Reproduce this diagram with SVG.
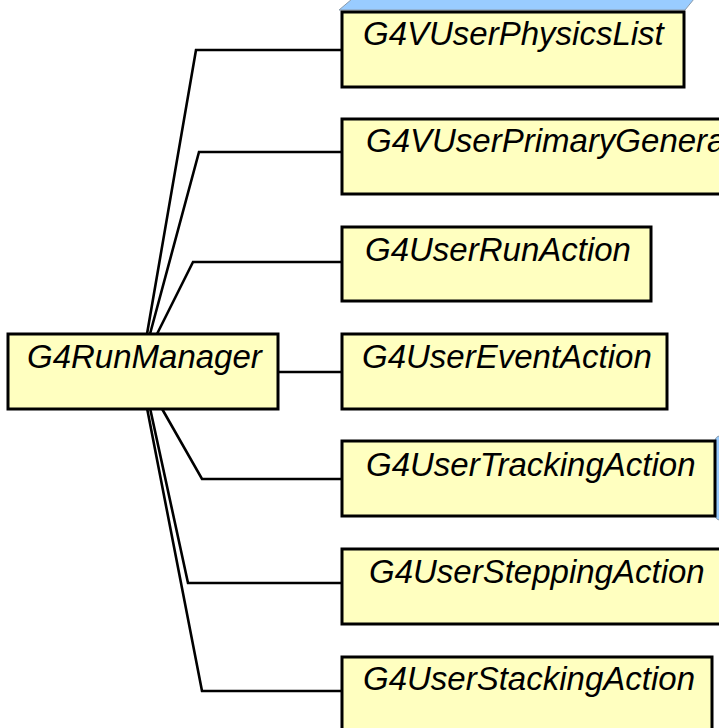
<svg xmlns="http://www.w3.org/2000/svg" width="719" height="728" viewBox="0 0 719 728">
  <style>
    .box { fill: #FFFFC0; stroke: #000; stroke-width: 3; }
    .lbl { font-family: "Liberation Sans", Arial, sans-serif; font-style: italic; font-size: 33px; fill: #000; }
    .wire { fill: none; stroke: #000; stroke-width: 2.6; stroke-linejoin: miter; }
    .face { fill: #99CCFF; stroke: #8A9AAA; stroke-width: 1; }
  </style>
  <rect width="719" height="728" fill="#fff"/>

  <!-- background shapes peeking out behind the class boxes -->
  <polygon class="face" points="339,10 352,-1 694,-1 685,10"/>
  <rect class="face" x="715" y="436" width="24" height="84" rx="5"/>

  <!-- connectors from the run manager to the user classes -->
  <g id="connectors">
    <polyline class="wire" points="147,334 196,50 342,50"/>
    <polyline class="wire" points="150,334 199,152 342,152"/>
    <polyline class="wire" points="157,334 193,262 342,262"/>
    <polyline class="wire" points="275,372 342,372"/>
    <polyline class="wire" points="161,407 202,479 342,479"/>
    <polyline class="wire" points="150,408 188,583 342,583"/>
    <polyline class="wire" points="147,408 202,691 342,691"/>
  </g>

  <g id="runManager">
    <rect class="box" x="8" y="334" width="270" height="75"/>
    <text class="lbl" x="27" y="368">G4RunManager</text>
  </g>

  <g id="physicsList">
    <rect class="box" x="342" y="12" width="342" height="75"/>
    <text class="lbl" x="363" y="45">G4VUserPhysicsList</text>
  </g>

  <g id="primaryGenerator">
    <rect class="box" x="342" y="119" width="420" height="75"/>
    <text class="lbl" x="366" y="152">G4VUserPrimaryGenera</text>
  </g>

  <g id="runAction">
    <rect class="box" x="342" y="227" width="309" height="74"/>
    <text class="lbl" x="365" y="261">G4UserRunAction</text>
  </g>

  <g id="eventAction">
    <rect class="box" x="342" y="334" width="325" height="75"/>
    <text class="lbl" x="362" y="368">G4UserEventAction</text>
  </g>

  <g id="trackingAction">
    <rect class="box" x="342" y="441" width="373" height="75"/>
    <text class="lbl" x="366" y="476">G4UserTrackingAction</text>
  </g>

  <g id="steppingAction">
    <rect class="box" x="342" y="549" width="420" height="75"/>
    <text class="lbl" x="369" y="583">G4UserSteppingAction</text>
  </g>

  <g id="stackingAction">
    <rect class="box" x="342" y="657" width="370" height="100"/>
    <text class="lbl" x="363" y="690">G4UserStackingAction</text>
  </g>
</svg>
